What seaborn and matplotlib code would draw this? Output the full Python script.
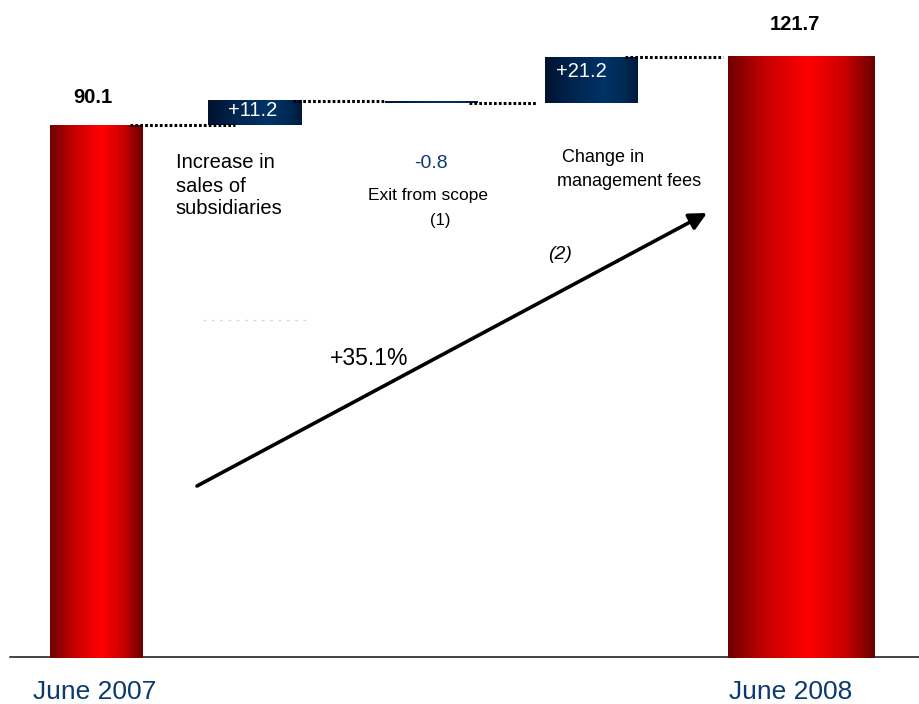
import numpy as np
import matplotlib
matplotlib.use("Agg")
import matplotlib.pyplot as plt
from matplotlib.colors import LinearSegmentedColormap
import seaborn as sns

# data
step_labels = ["June 2007", "Increase in\nsales of\nsubsidiaries", "Exit from scope\n(1)",
               "Change in\nmanagement fees", "June 2008"]
step_kinds = ["total", "delta", "delta", "delta", "total"]
step_values = [90.1, 11.2, -0.8, 21.2, 121.7]
growth_pct = 35.1

W, H = 919, 704

sns.set_theme(style="white")
plt.rcParams["font.family"] = ["Liberation Sans", "DejaVu Sans"]
plt.rcParams["text.color"] = "black"

# layout (pixels of the 919x704 canvas)
bar_centers = [96.5, 255, 431, 591.5, 801.5]
bar_widths = [93, 94, 93, 93, 147]
connector_spans = [(130, 235), (293, 386), (469, 537), (625, 723)]
px_per_unit = 2.152
first_top_px = 125
baseline_px = 658

y_top = step_values[0] + first_top_px / px_per_unit
y_bot = step_values[0] - (H - first_top_px) / px_per_unit
baseline = step_values[0] - (baseline_px - first_top_px) / px_per_unit

red_cmap = LinearSegmentedColormap.from_list(
    "red_bar", [(0, "#6e0000"), (0.25, "#c40000"), (0.55, "#ff0000"), (0.8, "#c80000"), (1, "#680000")])
navy_cmap = LinearSegmentedColormap.from_list(
    "navy_bar", [(0, "#00122e"), (0.3, "#002550"), (0.65, "#003366"), (0.85, "#002a55"), (1, "#001a3a")])

fig = plt.figure(figsize=(W / 100, H / 100), dpi=100)
ax = fig.add_axes([0, 0, 1, 1])

# waterfall geometry from the values
bottoms, tops, levels = [], [], []
running = 0.0
for kind, v in zip(step_kinds, step_values):
    if kind == "total":
        running = v
        bottoms.append(baseline)
        tops.append(v)
    else:
        bottoms.append(min(running, running + v))
        tops.append(max(running, running + v))
        running += v
    levels.append(running)
bottoms = np.array(bottoms)
tops = np.array(tops)

bars = ax.bar(bar_centers, tops - bottoms, width=bar_widths, bottom=bottoms,
              color="none", edgecolor="none", zorder=2)
grad = np.linspace(0, 1, 256).reshape(1, -1)
for kind, rect in zip(step_kinds, bars.patches):
    x0, y0 = rect.get_x(), rect.get_y()
    ax.imshow(grad, extent=[x0, x0 + rect.get_width(), y0, y0 + rect.get_height()],
              cmap=red_cmap if kind == "total" else navy_cmap,
              aspect="auto", interpolation="bicubic", zorder=2)

# dotted connectors at each running total
for level, (xa, xb) in zip(levels[:-1], connector_spans):
    ax.hlines(level, xa, xb, colors="black", linewidth=2.2,
              linestyles=(0, (0.9, 0.7)), zorder=4)

# faint leftover dots under the labels
ax.hlines(step_values[0] + (first_top_px - 320) / px_per_unit, 203, 310, colors="#d8d8d8",
          linewidth=1, linestyles=(0, (2, 4)), zorder=1)

ax.axhline(baseline + 1 / px_per_unit, xmin=10 / W, xmax=1, color="#444444", linewidth=1.4, zorder=1)

ax.set_xlim(0, W)
ax.set_ylim(y_bot, y_top)
ax.axis("off")


def fxy(x, y):
    return x / W, 1 - y / H


navy = "#0b3a6e"
fig.text(*fxy(93, 103.3), f"{step_values[0]:.1f}", fontsize=14.5, fontweight="bold",
         ha="center", va="baseline")
fig.text(*fxy(794.5, 30), f"{step_values[4]:.1f}", fontsize=14.5, fontweight="bold",
         ha="center", va="baseline")
fig.text(*fxy(253, 116), f"{step_values[1]:+.1f}", fontsize=14.5, color="white",
         ha="center", va="baseline", zorder=5)
fig.text(*fxy(431, 168.3), f"{step_values[2]:.1f}", fontsize=14, color=navy,
         ha="center", va="baseline")
fig.text(*fxy(581.7, 77.3), f"{step_values[3]:+.1f}", fontsize=14.5, color="white",
         ha="center", va="baseline", zorder=5)

for line, yb in zip(step_labels[1].split("\n"), [168.3, 191.7, 214]):
    fig.text(*fxy(175.7, yb), line, fontsize=14.5, ha="left", va="baseline")
exit_lines = step_labels[2].split("\n")
fig.text(*fxy(428.5, 200), exit_lines[0], fontsize=12.5, ha="center", va="baseline")
fig.text(*fxy(440, 225), exit_lines[1], fontsize=12, ha="center", va="baseline")
fee_lines = step_labels[3].split("\n")
fig.text(*fxy(562, 161.7), fee_lines[0], fontsize=13, ha="left", va="baseline")
fig.text(*fxy(556.7, 185.5), fee_lines[1], fontsize=13, ha="left", va="baseline")

fig.text(*fxy(560, 259), "(2)", fontsize=14, fontstyle="italic", ha="center", va="baseline")
fig.text(*fxy(369, 365), f"+{growth_pct:.1f}%", fontsize=16.5, ha="center", va="baseline")

ax.annotate("", xy=fxy(707, 213), xytext=fxy(197, 486), xycoords="figure fraction",
            textcoords="figure fraction",
            arrowprops=dict(arrowstyle="-|>", color="black", lw=2.6, mutation_scale=26,
                            shrinkA=0, shrinkB=0))

fig.text(*fxy(95, 699), step_labels[0], fontsize=19, color=navy, ha="center", va="baseline")
fig.text(*fxy(791, 699), step_labels[4], fontsize=19, color=navy, ha="center", va="baseline")

fig.savefig("out.png", dpi=100, facecolor="white")
